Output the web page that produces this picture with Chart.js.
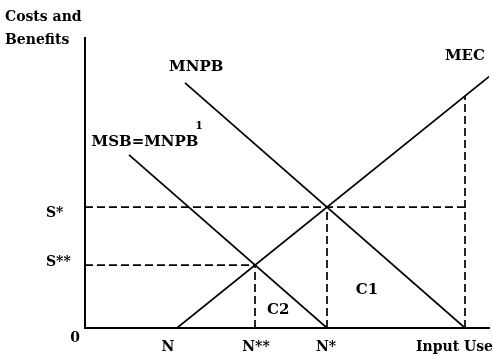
<!DOCTYPE html>
<html>
<head>
<meta charset="utf-8">
<script src="https://cdn.jsdelivr.net/npm/chart.js@4/dist/chart.umd.min.js"></script>
<style>
  html, body { margin: 0; padding: 0; background: #fff; }
  #wrap { width: 493px; height: 356px; }
</style>
</head>
<body>
<div id="wrap"><canvas id="chart"></canvas></div>
<script>
// input use levels on the x axis
const xTickLabels = ['N', 'N**', 'N*', 'Input Use'];
const xTickValues = [23, 42.5, 60.5, 95];
// costs / benefits levels on the y axis
const yTickLabels = ['S*', 'S**'];
const yTickValues = [41.7, 21.7];

// the three curves, [input use, cost or benefit]
const mec = [[23, 0], [101, 86.7]];
const mnpb = [[25, 84.5], [95, 0]];
const msb = [[11, 59.7], [60.5, 0]];

// curve and area names, with where they sit in data units
const curveNames = ['MEC', 'MNPB', 'MSB=MNPB', '1', 'C2', 'C1'];
const curveNameX = [95, 27.8, 15, 28.5, 48.3, 70.5];
const curveNameY = [93.8, 90, 64.1, 69.7, 6.2, 13.1];

const font = 'bold 14px "DejaVu Serif"';
const bigFont = 'bold 15px "DejaVu Serif"';

function pts(arr) {
    return arr.map(p => ({x: p[0], y: p[1]}));
}

// dashed guide lines built from the tick values
const guides = [
    [[0, yTickValues[0]], [xTickValues[3], yTickValues[0]]],
    [[0, yTickValues[1]], [xTickValues[1], yTickValues[1]]],
    [[xTickValues[1], 0], [xTickValues[1], yTickValues[1]]],
    [[xTickValues[2], 0], [xTickValues[2], yTickValues[0]]],
    [[xTickValues[3], 0], [xTickValues[3], 80]]
];

const datasets = [];
[mec, mnpb, msb].forEach(c => {
    datasets.push({
        data: pts(c),
        showLine: true,
        borderColor: '#000',
        borderWidth: 1.7,
        pointRadius: 0
    });
});
guides.forEach(g => {
    datasets.push({
        data: pts(g),
        showLine: true,
        borderColor: '#000',
        borderWidth: 1.7,
        borderDash: [8, 4],
        pointRadius: 0
    });
});

const textPlugin = {
    id: 'texts',
    afterDraw(chart) {
        const ctx = chart.ctx;
        const xs = chart.scales.x;
        const ys = chart.scales.y;
        ctx.save();
        ctx.fillStyle = '#000';
        ctx.font = font;
        ctx.textBaseline = 'middle';

        // axis title
        ctx.textAlign = 'left';
        ctx.fillText('Costs and', 5, 17);
        ctx.fillText('Benefits', 5, 40);

        // y tick labels
        const yNudge = [6, -3];
        for (let i = 0; i < yTickLabels.length; i++) {
            ctx.fillText(yTickLabels[i], 46, ys.getPixelForValue(yTickValues[i]) + yNudge[i]);
        }
        ctx.textAlign = 'center';
        ctx.fillText('0', 75, 338);

        // x tick labels
        const xNudge = [-9, 1, -1, 0];
        for (let i = 0; i < xTickLabels.length; i++) {
            let px = xs.getPixelForValue(xTickValues[i]) + xNudge[i];
            const w = ctx.measureText(xTickLabels[i]).width;
            if (px + w / 2 > chart.width) px = chart.width - w / 2;
            ctx.fillText(xTickLabels[i], px, 347);
        }

        // curve names
        for (let i = 0; i < curveNames.length; i++) {
            if (curveNames[i] === '1') ctx.font = 'bold 11px "DejaVu Serif"';
            else ctx.font = bigFont;
            ctx.fillText(curveNames[i], xs.getPixelForValue(curveNameX[i]), ys.getPixelForValue(curveNameY[i]));
        }
        ctx.restore();
    }
};

new Chart(document.getElementById('chart'), {
    type: 'scatter',
    data: { datasets: datasets },
    options: {
        responsive: true,
        maintainAspectRatio: false,
        animation: false,
        layout: { padding: { left: 85, right: 4, top: 38, bottom: 28 } },
        plugins: { legend: { display: false }, tooltip: { enabled: false } },
        scales: {
            x: {
                type: 'linear',
                min: 0,
                max: 101,
                grid: { display: false, drawTicks: false },
                ticks: { display: false },
                border: { display: true, color: '#000', width: 2 }
            },
            y: {
                type: 'linear',
                min: 0,
                max: 100,
                grid: { display: false, drawTicks: false },
                ticks: { display: false },
                border: { display: true, color: '#000', width: 2 }
            }
        }
    },
    plugins: [textPlugin]
});
</script>
</body>
</html>
